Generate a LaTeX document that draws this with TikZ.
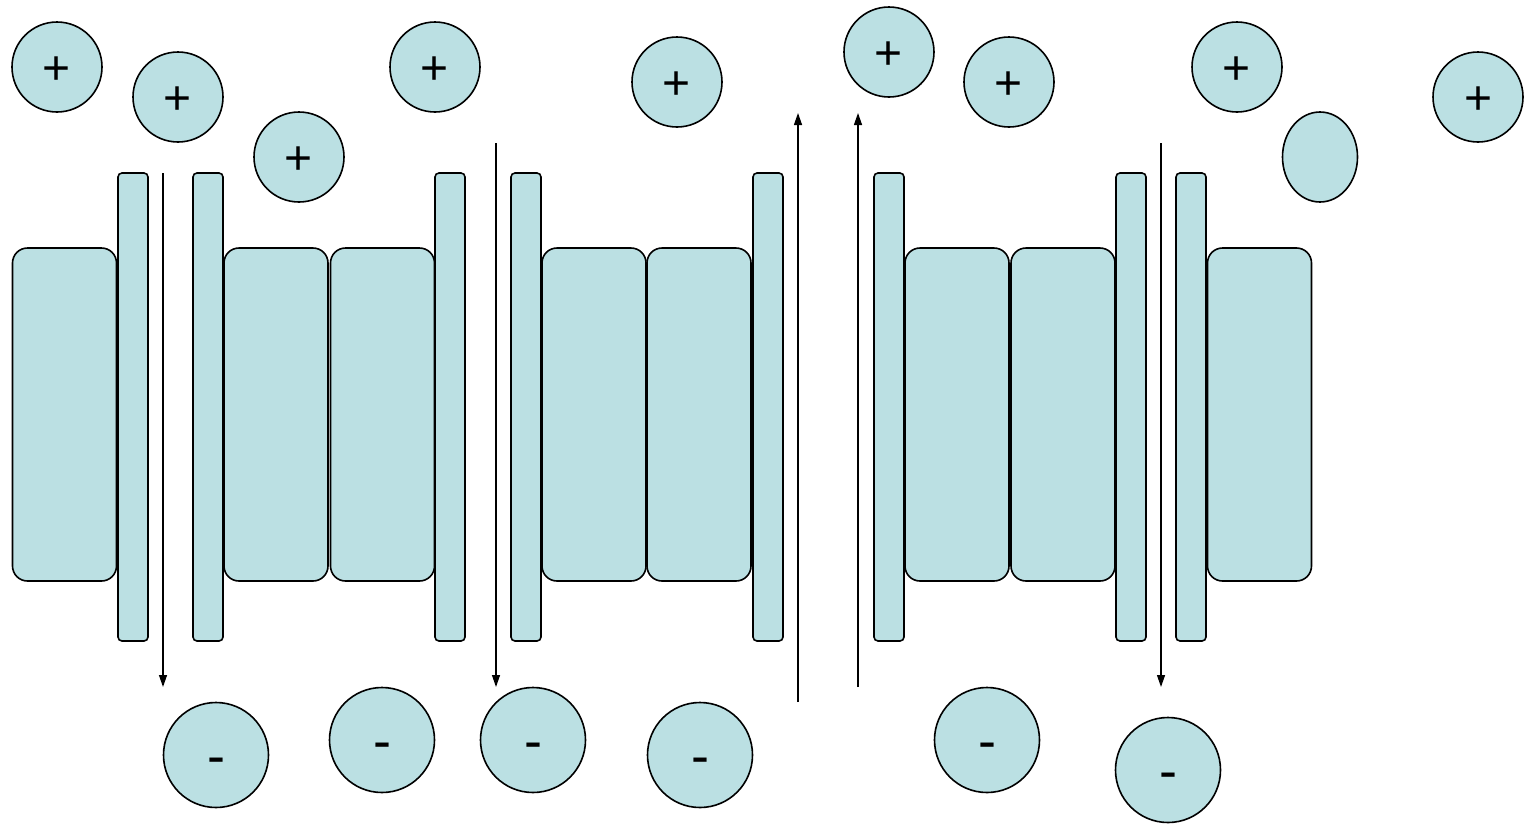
\documentclass[tikz,border=0pt]{standalone}
\usepackage{fontspec}
\setmainfont{Liberation Sans}
\usetikzlibrary{arrows.meta,shapes.geometric}
\definecolor{ion}{HTML}{BBE0E3}
\newcommand{\plussign}{\smash{\raisebox{-17.5pt}{+}}}
\newcommand{\minussign}{\smash{\raisebox{-19pt}{-}}}
\tikzset{
  posion/.style={circle, draw=black, line width=1.6pt, fill=ion, minimum size=90pt, inner sep=0pt, font=\fontsize{48}{48}\selectfont},
  negion/.style={circle, draw=black, line width=1.6pt, fill=ion, minimum size=105pt, inner sep=0pt, font=\fontsize{54}{54}\selectfont},
  blob/.style={ellipse, draw=black, line width=1.6pt, fill=ion, minimum width=75pt, minimum height=90pt, inner sep=0pt},
  bar/.style={draw=black, line width=1.6pt, fill=ion, rounded corners=4pt, minimum width=30pt, minimum height=468pt, inner sep=0pt},
  block/.style={draw=black, line width=1.6pt, fill=ion, rounded corners=15pt, minimum width=104pt, minimum height=333pt, inner sep=0pt},
  flow/.style={line width=1.3pt, -{Triangle[length=12pt,width=8pt]}}
}
\begin{document}
\begin{tikzpicture}[x=1pt,y=-1pt]
\useasboundingbox (0,0) rectangle (1526,825);
% blocks
\node[block] (k1) at (64.5,414.5) {};
\node[block] (k2) at (276,414.5) {};
\node[block] (k3) at (382.5,414.5) {};
\node[block] (k4) at (594,414.5) {};
\node[block] (k5) at (699,414.5) {};
\node[block] (k6) at (957,414.5) {};
\node[block] (k7) at (1063,414.5) {};
\node[block] (k8) at (1259.5,414.5) {};
% bars
\node[bar] (b1) at (133,407) {};
\node[bar] (b2) at (208,407) {};
\node[bar] (b3) at (450,407) {};
\node[bar] (b4) at (526,407) {};
\node[bar] (b5) at (768,407) {};
\node[bar] (b6) at (889,407) {};
\node[bar] (b7) at (1131,407) {};
\node[bar] (b8) at (1191,407) {};
% positive ions
\node[posion] (p1) at (57,67) {\plussign};
\node[posion] (p2) at (178,97) {\plussign};
\node[posion] (p3) at (299,157) {\plussign};
\node[posion] (p4) at (435,67) {\plussign};
\node[posion] (p5) at (677,82) {\plussign};
\node[posion] (p6) at (889,52) {\plussign};
\node[posion] (p7) at (1009,82) {\plussign};
\node[posion] (p8) at (1237,67) {\plussign};
\node[posion] (p9) at (1478,97) {\plussign};
\node[blob] (e1) at (1320,157) {};
% negative ions
\node[negion] (n1) at (216,755) {\minussign};
\node[negion] (n2) at (382,740) {\minussign};
\node[negion] (n3) at (533,740) {\minussign};
\node[negion] (n4) at (700,755) {\minussign};
\node[negion] (n5) at (987,740) {\minussign};
\node[negion] (n6) at (1168,770) {\minussign};
% arrow end points
\coordinate (a1s) at (163,173); \coordinate (a1e) at (163,687);
\coordinate (a2s) at (496,143); \coordinate (a2e) at (496,687);
\coordinate (a3s) at (1161,143); \coordinate (a3e) at (1161,687);
\coordinate (a4s) at (798,702); \coordinate (a4e) at (798,113);
\coordinate (a5s) at (858,687); \coordinate (a5e) at (858,113);
\draw[flow] (a1s) -- (a1e);
\draw[flow] (a2s) -- (a2e);
\draw[flow] (a3s) -- (a3e);
\draw[flow] (a4s) -- (a4e);
\draw[flow] (a5s) -- (a5e);
\end{tikzpicture}
\end{document}
